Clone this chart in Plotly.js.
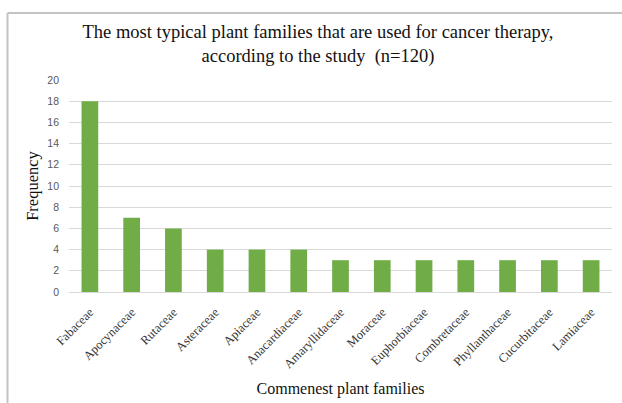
<!DOCTYPE html>
<html>
<head>
<meta charset="utf-8">
<script src="https://cdn.plot.ly/plotly-3.0.1.min.js"></script>
<style>
html,body{margin:0;padding:0;background:#fff;}
#chart{width:622px;height:403px;}
</style>
</head>
<body>
<div id="chart"></div>
<script>
const families = ["Fabaceae","Apocynaceae","Rutaceae","Asteraceae","Apiaceae","Anacardiaceae","Amaryllidaceae","Moraceae","Euphorbiaceae","Combretaceae","Phyllanthaceae","Cucurbitaceae","Lamiaceae"];
const frequency = [18,7,6,4,4,4,3,3,3,3,3,3,3];
const yTicks = [0,2,4,6,8,10,12,14,16,18,20];

const W = 622, H = 403;
const M = {l:69, r:10, t:80, b:111};
const pw = W - M.l - M.r, ph = H - M.t - M.b;
function px2paperX(px){return (px - M.l)/pw;}
function px2paperY(py){return (H - M.b - py)/ph;}

const serif = '"Liberation Serif", "Times New Roman", serif';

const trace = {
  type:'bar',
  x: families,
  y: frequency,
  marker:{color:'#70ad47'},
  width:0.4,
  hoverinfo:'x+y'
};

const layout = {
  width:W, height:H,
  margin:M,
  paper_bgcolor:'#fff',
  plot_bgcolor:'#fff',
  showlegend:false,
  font:{family:serif, color:'#222'},
  title:{
    text:'The most typical plant families that are used for cancer therapy,<br>according to the study  (n=120)',
    font:{family:serif, size:18.5, color:'#111'},
    x:318/622, xref:'container', xanchor:'center',
    y:1-38/403, yref:'container', yanchor:'middle'
  },
  xaxis:{
    type:'category',
    tickangle:-45,
    tickfont:{family:serif, size:12.5, color:'#333'},
    showgrid:false,
    showline:true, linecolor:'#d9d9d9', linewidth:1,
    ticks:'',
    ticklabelstandoff:7,
    automargin:false,
    title:{text:'Commenest plant families', font:{family:serif, size:16, color:'#111'}, standoff:12}
  },
  yaxis:{
    range:[0,20],
    tickvals:yTicks,
    ticktext:yTicks.map(String),
    tickfont:{family:'"Liberation Sans", Arial, sans-serif', size:10.5, color:'#595959'},
    showgrid:true, gridcolor:'#d9d9d9', gridwidth:1,
    zeroline:true, zerolinecolor:'#d9d9d9', zerolinewidth:1,
    showline:false,
    ticks:'',
    ticklabelstandoff:9,
    automargin:false,
    title:{text:'Frequency', font:{family:serif, size:16.5, color:'#111'}, standoff:4}
  },
  shapes:[
    {type:'line', xref:'paper', yref:'paper', x0:px2paperX(7.5), x1:px2paperX(7.5), y0:px2paperY(13), y1:px2paperY(410), line:{color:'#c4c4c4', width:2}},
    {type:'line', xref:'paper', yref:'paper', x0:px2paperX(7.5), x1:px2paperX(630), y0:px2paperY(13), y1:px2paperY(13), line:{color:'#c4c4c4', width:2}}
  ]
};

Plotly.newPlot('chart',[trace],layout,{displayModeBar:false, staticPlot:true});
</script>
</body>
</html>
